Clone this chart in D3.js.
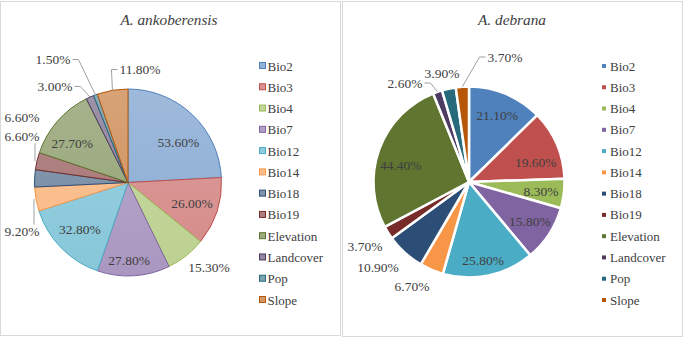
<!DOCTYPE html>
<html>
<head>
<meta charset="utf-8">
<script src="https://cdn.jsdelivr.net/npm/d3@7"></script>
<style>
  html, body { margin: 0; padding: 0; background: #fff; }
  svg { display: block; }
</style>
</head>
<body>
<div id="chart"></div>
<script>
const categories = ["Bio2", "Bio3", "Bio4", "Bio7", "Bio12", "Bio14", "Bio18", "Bio19",
    "Elevation", "Landcover", "Pop", "Slope"];
const ankoberensis = [53.6, 26.0, 15.3, 27.8, 32.8, 9.2, 6.6, 6.6, 27.7, 3.0, 1.5, 11.8];
const debrana = [21.1, 19.6, 8.3, 15.8, 25.8, 6.7, 10.9, 3.7, 44.4, 2.6, 3.9, 3.7];
const seriesColors = ["#4f81bd", "#c0504d", "#9bbb59", "#8064a2", "#4bacc6", "#f79646",
    "#2c4d75", "#772c2a", "#5f7530", "#4d3b62", "#276a7c", "#b65708"];

// labels that Excel pushed outside the pie, offset from the pie centre
const leftOutside = {
    Bio4: [81, 85], Bio14: [-106, 49], Bio18: [-106, -65], Bio19: [-106, -46],
    Landcover: [-73, -96], Pop: [-75, -123], Slope: [12, -113]
};
const rightOutside = {
    Bio14: [-57, 104], Bio18: [-91, 85], Bio19: [-104, 64],
    Landcover: [-64, -99], Pop: [-27, -109], Slope: [36, -125]
};
// small shifts of inside labels away from the centroid
const leftNudge = { Bio2: [4, 9], Bio7: [-3, 11], Elevation: [-5, 5] };
const rightNudge = { Bio3: [0, 9], Bio12: [-1, 7], Elevation: [0, 8] };

const W = 685, H = 338;
const FONT = '"Liberation Serif", "Times New Roman", serif';
const fmt = d => d3.format(".2f")(d) + "%";
const color = d3.scaleOrdinal().domain(categories).range(seriesColors);

const svg = d3.select("#chart").append("svg")
    .attr("width", W).attr("height", H)
    .style("font-family", FONT);

// panel frames
svg.append("rect").attr("x", 0.5).attr("y", 1.5).attr("width", 340).attr("height", 334)
    .attr("fill", "#fff").attr("stroke", "#d9d9d9");
svg.append("rect").attr("x", 342.5).attr("y", 1.5).attr("width", 340).attr("height", 335)
    .attr("fill", "#fff").attr("stroke", "#d9d9d9");

const defs = svg.append("defs");

function drawPanel(opts) {
    const { values, cx, cy, r, title, titleX, legendX, outside, nudge, style, insideR } = opts;
    const g = svg.append("g");

    g.append("text")
        .attr("x", titleX).attr("y", 25)
        .attr("text-anchor", "middle")
        .style("font-style", "italic")
        .style("font-size", "15.3px")
        .style("fill", "#404040")
        .text(title);

    const data = categories.map((c, i) => ({ name: c, value: values[i] }));
    const pie = d3.pie().sort(null).value(d => d.value);
    const arcs = pie(data);
    const arc = d3.arc().innerRadius(0).outerRadius(r);

    const pg = g.append("g").attr("transform", `translate(${cx},${cy})`);

    if (style === "soft") {
        categories.forEach((c, i) => {
            const base = d3.color(color(c));
            const gr = defs.append("linearGradient")
                .attr("id", "grad-" + i)
                .attr("gradientUnits", "userSpaceOnUse")
                .attr("x1", 0).attr("y1", -r).attr("x2", 0).attr("y2", r);
            gr.append("stop").attr("offset", "0%")
                .attr("stop-color", d3.interpolateRgb(base, "#fff")(0.45));
            gr.append("stop").attr("offset", "100%")
                .attr("stop-color", d3.interpolateRgb(base, "#fff")(0.33));
        });
    }

    pg.selectAll("path.slice")
        .data(arcs)
        .enter()
        .append("path")
        .attr("class", "slice")
        .attr("d", arc)
        .attr("fill", (d, i) => style === "soft" ? `url(#grad-${i})` : color(d.data.name))
        .attr("stroke", d => style === "soft" ? color(d.data.name) : "#fff")
        .attr("stroke-width", style === "soft" ? 1 : 2.5)
        .attr("stroke-linejoin", "round");

    // data labels
    const labels = arcs.map(d => {
        const off = outside[d.data.name];
        let x, y;
        if (off) {
            x = off[0]; y = off[1];
        } else {
            const a = (d.startAngle + d.endAngle) / 2;
            const n = nudge[d.data.name] || [0, 0];
            x = Math.sin(a) * r * insideR + n[0];
            y = -Math.cos(a) * r * insideR + n[1];
        }
        return { d, x, y, out: !!off };
    });

    const lt = pg.selectAll("text.lbl")
        .data(labels)
        .enter()
        .append("text")
        .attr("class", "lbl")
        .attr("x", l => l.x).attr("y", l => l.y)
        .attr("dy", "0.35em")
        .attr("text-anchor", "middle")
        .style("font-size", "13.5px")
        .style("fill", "#404040")
        .text(l => fmt(l.d.data.value));

    lt.each(function (l) { l.w = this.getComputedTextLength(); l.h = 12; });

    const boxes = labels.map(l => ({ x0: l.x - l.w / 2, x1: l.x + l.w / 2, y0: l.y - l.h / 2, y1: l.y + l.h / 2 }));
    const crosses = (p, q, skip) => {
        for (let k = 1; k < 20; k++) {
            const t = k / 20, x = p[0] + (q[0] - p[0]) * t, y = p[1] + (q[1] - p[1]) * t;
            if (boxes.some((b, j) => j !== skip && labels[j].out &&
                x > b.x0 && x < b.x1 && y > b.y0 && y < b.y1)) return true;
        }
        return false;
    };

    // leader lines
    labels.forEach((l, i) => {
        if (!l.out) return;
        const a = (l.d.startAngle + l.d.endAngle) / 2;
        const p = [Math.sin(a) * r, -Math.cos(a) * r];
        const b = boxes[i];
        const qx = Math.max(b.x0, Math.min(b.x1, p[0]));
        const qy = Math.max(b.y0, Math.min(b.y1, p[1]));
        if (Math.hypot(p[0] - qx, p[1] - qy) < 12) return;
        let pts;
        if (p[0] > b.x1) pts = [[b.x1 + 2, l.y], [b.x1 + 8, l.y], p];
        else if (p[0] < b.x0) pts = [[b.x0 - 2, l.y], [b.x0 - 8, l.y], p];
        else pts = [[p[0] - 2, p[1] > l.y ? b.y1 + 1 : b.y0 - 1], [p[0] - 2, p[1]]];
        if (crosses(pts[pts.length - 2], pts[pts.length - 1], i)) return;
        pg.append("path")
            .attr("d", d3.line()(pts))
            .attr("fill", "none")
            .attr("stroke", "#a0a0a0")
            .attr("stroke-width", 1);
    });

    // legend
    const y = d3.scalePoint().domain(categories).range([66, 300]);
    const lg = g.selectAll("g.leg")
        .data(categories)
        .enter()
        .append("g")
        .attr("class", "leg")
        .attr("transform", c => `translate(${legendX},${y(c)})`);

    if (style === "soft") {
        lg.append("rect")
            .attr("x", 0.5).attr("y", -3.5).attr("width", 6).attr("height", 6)
            .attr("fill", (c, i) => `url(#grad-${i})`)
            .attr("stroke", c => color(c));
        lg.append("text").attr("x", 8.5);
    } else {
        lg.append("rect")
            .attr("x", 0).attr("y", -2).attr("width", 4).attr("height", 4)
            .attr("fill", c => color(c));
        lg.append("text").attr("x", 8);
    }
    lg.select("text")
        .attr("y", 0)
        .attr("dy", "0.35em")
        .style("font-size", "13px")
        .style("fill", "#404040")
        .text(c => c);
}

drawPanel({
    values: ankoberensis, cx: 128, cy: 182.5, r: 93.5,
    title: "A. ankoberensis", titleX: 169, legendX: 259,
    outside: leftOutside, nudge: leftNudge, style: "soft", insideR: 0.72
});
drawPanel({
    values: debrana, cx: 469, cy: 182, r: 95.5,
    title: "A. debrana", titleX: 512, legendX: 602,
    outside: rightOutside, nudge: rightNudge, style: "solid", insideR: 0.76
});
</script>
</body>
</html>
